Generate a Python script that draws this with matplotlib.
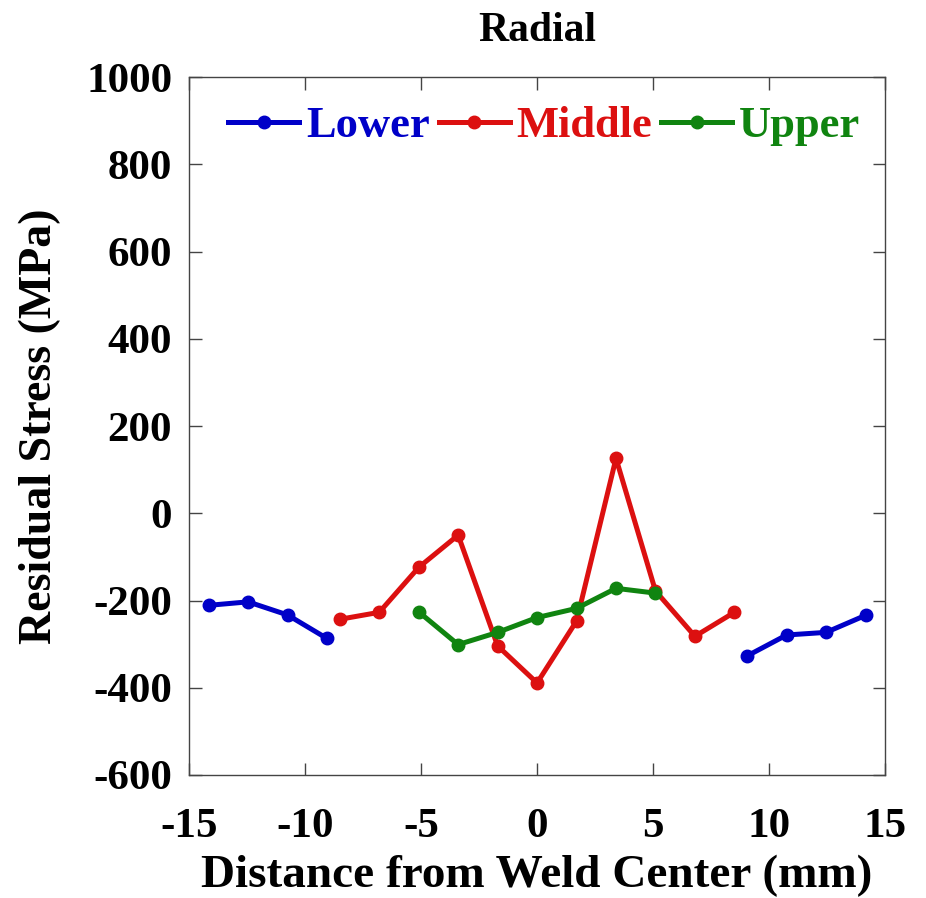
import matplotlib
matplotlib.use("Agg")
import matplotlib.pyplot as plt

plt.rcParams['font.family'] = ['Liberation Serif', 'DejaVu Serif']
plt.rcParams['font.weight'] = 'bold'
plt.rcParams['axes.unicode_minus'] = False

# data
lower_x_left = [-14.15, -12.45, -10.75, -9.05]
lower_y_left = [-211, -203, -233, -287]
lower_x_right = [9.05, 10.75, 12.45, 14.15]
lower_y_right = [-327, -279, -273, -234]

middle_x = [-8.5, -6.8, -5.1, -3.4, -1.7, 0, 1.7, 3.4, 5.1, 6.8, 8.5]
middle_y = [-243, -227, -124, -50, -304, -389, -247, 126, -178, -282, -227]

upper_x = [-5.1, -3.4, -1.7, 0, 1.7, 3.4, 5.1]
upper_y = [-226, -301, -273, -239, -218, -172, -183]

blue = '#0000C8'
red = '#DC1010'
green = '#108410'

fig = plt.figure(figsize=(9.26, 8.98), dpi=100)
ax = fig.add_axes([0.204, 0.137, 0.752, 0.777])

lw = 3.6
ms = 9
ax.plot(lower_x_left, lower_y_left, '-o', color=blue, lw=lw, ms=ms, label='Lower')
ax.plot(lower_x_right, lower_y_right, '-o', color=blue, lw=lw, ms=ms)
ax.plot(middle_x, middle_y, '-o', color=red, lw=lw, ms=ms, label='Middle')
ax.plot(upper_x, upper_y, '-o', color=green, lw=lw, ms=ms, label='Upper')

ax.set_xlim(-15, 15)
ax.set_ylim(-600, 1000)
ax.set_xticks([-15, -10, -5, 0, 5, 10, 15])
ax.set_yticks(range(-600, 1001, 200))

for s in ax.spines.values():
    s.set_color('#444444')
    s.set_linewidth(1.0)
ax.tick_params(direction='in', length=9, width=1, color='#444444',
               top=True, right=True, labelsize=31)
ax.tick_params(axis='x', pad=24)
ax.tick_params(axis='y', pad=12)
for lab in ax.get_xticklabels() + ax.get_yticklabels():
    lab.set_fontweight('bold')

ax.set_xlabel('Distance from Weld Center (mm)', fontsize=34, fontweight='bold', labelpad=6)
ax.set_ylabel('Residual Stress (MPa)', fontsize=33, fontweight='bold', labelpad=18)
ax.set_title('Radial', fontsize=30, fontweight='bold', pad=26)

leg = ax.legend(loc='upper center', ncol=3, frameon=False, fontsize=32,
                handlelength=1.6, handletextpad=0.15, columnspacing=0.2,
                borderaxespad=0.25, bbox_to_anchor=(0.51, 1.0))
for txt, c in zip(leg.get_texts(), [blue, red, green]):
    txt.set_color(c)
    txt.set_fontweight('bold')

fig.savefig('out.png', dpi=100)
